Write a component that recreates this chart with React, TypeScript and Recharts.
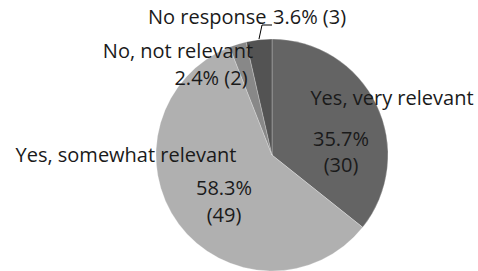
import { Pie, PieChart, Cell } from "recharts";

const categories = [
  "Yes, very relevant",
  "Yes, somewhat relevant",
  "No, not relevant",
  "No response",
];
const counts = [30, 49, 2, 3];
const percents = ["35.7%", "58.3%", "2.4%", "3.6%"];
const colors = ["#646464", "#b0b0b0", "#888888", "#535353"];

const data = categories.map((name, i) => ({
  name,
  value: counts[i],
  pct: percents[i],
}));

// label baselines relative to the pie centre
const labelPos = [
  { name: [120, -50], pct: [69, -9], cnt: [69, 17] },
  { name: [-146, 7], pct: [-48, 40], cnt: [-48, 67] },
  { name: [-94, -97], pct: [-61, -70], cnt: null },
  { name: [-124, -131], pct: [1, -131], cnt: null },
];

const FONT = "'Open Sans', sans-serif";

function renderLabel(props: any) {
  const { cx, cy, index } = props;
  const d = data[index];
  const p = labelPos[index];
  const common = {
    fill: "#1a1a1a",
    fontSize: 20,
    fontFamily: FONT,
    textAnchor: "middle" as const,
  };
  if (index === 3) {
    return (
      <g key={index}>
        <text {...common} textAnchor="start" x={cx + p.name[0]} y={cy + p.name[1]}>
          {d.name}
        </text>
        <text {...common} textAnchor="start" x={cx + p.pct![0]} y={cy + p.pct![1]}>
          {d.pct} ({d.value})
        </text>
        <polyline
          points={`${cx},${cy - 130} ${cx - 10},${cy - 130} ${cx - 13},${cy - 116}`}
          fill="none"
          stroke="#000"
          strokeWidth={1}
        />
      </g>
    );
  }
  if (index === 2) {
    return (
      <g key={index}>
        <text {...common} x={cx + p.name[0]} y={cy + p.name[1]}>
          {d.name}
        </text>
        <text {...common} x={cx + p.pct![0]} y={cy + p.pct![1]}>
          {d.pct} ({d.value})
        </text>
      </g>
    );
  }
  return (
    <g key={index}>
      <text {...common} x={cx + p.name[0]} y={cy + p.name[1]}>
        {d.name}
      </text>
      <text {...common} x={cx + p.pct![0]} y={cy + p.pct![1]}>
        {d.pct}
      </text>
      <text {...common} x={cx + p.cnt![0]} y={cy + p.cnt![1]}>
        ({d.value})
      </text>
    </g>
  );
}

export default function App() {
  return (
    <div style={{ position: "absolute", left: 0, top: 0, width: 478, height: 271, background: "#fff" }}>
      <PieChart width={478} height={271} margin={{ top: 0, right: 0, bottom: 0, left: 0 }}>
        <Pie
          data={data}
          dataKey="value"
          nameKey="name"
          cx={272}
          cy={155}
          outerRadius={116}
          startAngle={90}
          endAngle={-270}
          stroke="#ffffff"
          strokeOpacity={0.25}
          strokeWidth={1}
          label={renderLabel}
          labelLine={false}
          isAnimationActive={false}
        >
          {data.map((d, i) => (
            <Cell key={d.name} fill={colors[i]} />
          ))}
        </Pie>
      </PieChart>
    </div>
  );
}
